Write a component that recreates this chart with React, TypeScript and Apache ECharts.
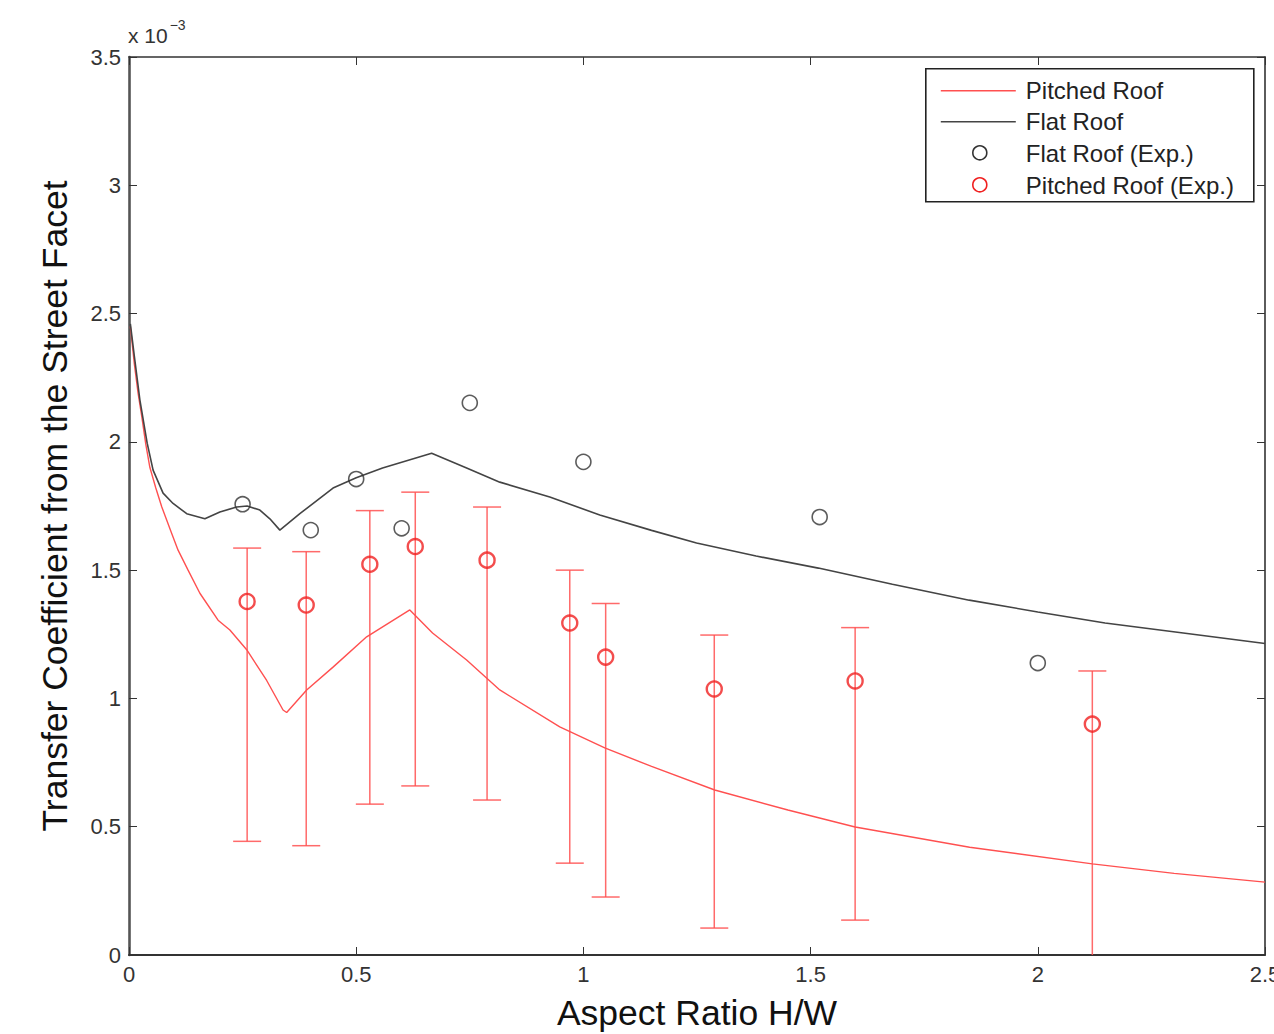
import React, { useEffect, useRef } from "react";
import * as echarts from "echarts";

// ---- data (values in units of 1e-3) ----
const xTickLabels = ["0", "0.5", "1", "1.5", "2", "2.5"];
const yTickLabels = ["0", "0.5", "1", "1.5", "2", "2.5", "3", "3.5"];

const flatRoofCurve: [number, number][] = [
  [0.003, 2.46], [0.012, 2.33], [0.024, 2.163], [0.04, 1.995], [0.053, 1.89],
  [0.075, 1.8], [0.097, 1.76], [0.127, 1.72], [0.167, 1.7], [0.2, 1.727],
  [0.237, 1.746], [0.26, 1.75], [0.288, 1.734], [0.31, 1.7], [0.332, 1.656],
  [0.376, 1.72], [0.449, 1.82], [0.5, 1.86], [0.558, 1.898], [0.666, 1.956],
  [0.743, 1.898], [0.816, 1.843], [0.926, 1.785], [1.036, 1.715], [1.15, 1.655],
  [1.249, 1.606], [1.38, 1.555], [1.517, 1.508], [1.68, 1.445], [1.849, 1.383],
  [2.0, 1.337], [2.148, 1.294], [2.32, 1.255], [2.5, 1.214],
];

const pitchedRoofCurve: [number, number][] = [
  [0.003, 2.45], [0.012, 2.3], [0.02, 2.19], [0.028, 2.1], [0.037, 1.99],
  [0.046, 1.9], [0.059, 1.82], [0.072, 1.747], [0.094, 1.643], [0.108, 1.578],
  [0.13, 1.5], [0.156, 1.41], [0.196, 1.305], [0.222, 1.267], [0.259, 1.19],
  [0.303, 1.07], [0.339, 0.955], [0.347, 0.945], [0.391, 1.033], [0.449, 1.122],
  [0.523, 1.24], [0.618, 1.345], [0.668, 1.255], [0.743, 1.15], [0.816, 1.033],
  [0.948, 0.889], [1.047, 0.807], [1.15, 0.735], [1.289, 0.643], [1.45, 0.565],
  [1.598, 0.499], [1.85, 0.42], [2.12, 0.355], [2.3, 0.318], [2.5, 0.284],
];

const flatExpX = [0.25, 0.4, 0.5, 0.6, 0.75, 1.0, 1.52, 2.0];
const flatExpY = [1.757, 1.656, 1.855, 1.663, 2.152, 1.922, 1.707, 1.138];

const pitchedExpX = [0.26, 0.39, 0.53, 0.63, 0.788, 0.97, 1.049, 1.288, 1.598, 2.12];
const pitchedExpY = [1.378, 1.364, 1.523, 1.592, 1.539, 1.294, 1.161, 1.037, 1.068, 0.9];
const pitchedExpHigh = [1.586, 1.572, 1.732, 1.804, 1.746, 1.5, 1.37, 1.247, 1.276, 1.107];
const pitchedExpLow = [0.443, 0.426, 0.588, 0.659, 0.604, 0.358, 0.226, 0.105, 0.136, -0.04];

const FONT = "'Liberation Sans', Arial, Helvetica, sans-serif";
const RED_LINE = "#ff5050";
const RED_MARK = "#f02020";
const DARK = "#333333";

export default function App() {
  const ref = useRef<HTMLDivElement>(null);

  useEffect(() => {
    if (!ref.current) return;
    const chart = echarts.init(ref.current, undefined, { renderer: "svg", width: 1274, height: 1034 });

    const errData = pitchedExpX.map((x, i) => [x, pitchedExpLow[i], pitchedExpHigh[i]]);

    const axisCommon = {
      min: 0,
      splitLine: { show: false },
      axisTick: { show: true, inside: true, length: 8, lineStyle: { color: DARK, width: 1 } },
    };

    const option: any = {
      animation: false,
      backgroundColor: "#ffffff",
      grid: { left: 129, right: 9, top: 57, bottom: 79, containLabel: false, outerBoundsMode: "none" },
      xAxis: [
        {
          ...axisCommon,
          type: "value",
          max: 2.5,
          interval: 0.5,
          position: "bottom",
          axisLine: { show: true, onZero: false, lineStyle: { color: DARK, width: 2 } },
          axisLabel: {
            color: DARK, fontSize: 22, fontFamily: FONT, margin: 8,
            formatter: (v: number) => xTickLabels[Math.round(v / 0.5)] ?? "",
          },
          name: "Aspect Ratio H/W",
          nameLocation: "middle",
          nameGap: 40,
          nameTextStyle: { color: "#111", fontSize: 35.5, fontFamily: FONT },
        },
        {
          ...axisCommon,
          type: "value",
          max: 2.5,
          interval: 0.5,
          position: "top",
          axisLine: { show: true, onZero: false, lineStyle: { color: DARK, width: 1.6 } },
          axisLabel: { show: false },
        },
      ],
      yAxis: [
        {
          ...axisCommon,
          type: "value",
          max: 3.5,
          interval: 0.5,
          position: "left",
          axisLine: { show: true, onZero: false, lineStyle: { color: "#555", width: 2.6 } },
          axisLabel: {
            color: DARK, fontSize: 22, fontFamily: FONT, margin: 8,
            formatter: (v: number) => yTickLabels[Math.round(v / 0.5)] ?? "",
          },
          name: "Transfer Coefficient from the Street Facet",
          nameLocation: "middle",
          nameGap: 56,
          nameTextStyle: { color: "#111", fontSize: 35.5, fontFamily: FONT },
        },
        {
          ...axisCommon,
          type: "value",
          max: 3.5,
          interval: 0.5,
          position: "right",
          axisLine: { show: true, onZero: false, lineStyle: { color: DARK, width: 1.6 } },
          axisLabel: { show: false },
        },
      ],
      series: [
        {
          name: "Pitched Roof",
          type: "line",
          data: pitchedRoofCurve,
          showSymbol: false,
          symbol: "none",
          lineStyle: { color: RED_LINE, width: 1.4 },
          z: 2,
        },
        {
          name: "Flat Roof",
          type: "line",
          data: flatRoofCurve,
          showSymbol: false,
          symbol: "none",
          lineStyle: { color: "#444", width: 1.6 },
          z: 2,
        },
        {
          name: "error",
          type: "custom",
          clip: true,
          data: errData,
          renderItem: (params: any, api: any) => {
            const x = api.value(0);
            const lo = api.coord([x, api.value(1)]);
            const hi = api.coord([x, api.value(2)]);
            const hw = 14;
            const style = { stroke: RED_LINE, lineWidth: 1.5, opacity: 0.85 };
            return {
              type: "group",
              children: [
                { type: "line", shape: { x1: hi[0], y1: hi[1], x2: lo[0], y2: lo[1] }, style },
                { type: "line", shape: { x1: hi[0] - hw, y1: hi[1], x2: hi[0] + hw, y2: hi[1] }, style },
                { type: "line", shape: { x1: lo[0] - hw, y1: lo[1], x2: lo[0] + hw, y2: lo[1] }, style },
              ],
            };
          },
          z: 3,
        },
        {
          name: "Flat Roof (Exp.)",
          type: "scatter",
          data: flatExpX.map((x, i) => [x, flatExpY[i]]),
          symbol: "circle",
          symbolSize: 15,
          itemStyle: { color: "rgba(0,0,0,0)", borderColor: DARK, borderWidth: 1.6 },
          z: 4,
        },
        {
          name: "Pitched Roof (Exp.)",
          type: "scatter",
          data: pitchedExpX.map((x, i) => [x, pitchedExpY[i]]),
          symbol: "circle",
          symbolSize: 15,
          itemStyle: { color: "rgba(0,0,0,0)", borderColor: RED_MARK, borderWidth: 2.4 },
          z: 4,
        },
      ],
      graphic: [
        {
          type: "text",
          left: 128,
          top: 18,
          style: {
            text: "{a|x 10}{b|−3}",
            fontFamily: FONT,
            rich: {
              a: { fontSize: 21, fill: DARK, fontFamily: FONT, verticalAlign: "bottom" },
              b: { fontSize: 14, fill: DARK, fontFamily: FONT, verticalAlign: "top", padding: [0, 0, 14, 2] },
            },
          },
        },
        {
          type: "group",
          left: 925,
          top: 68,
          children: [
            {
              type: "rect",
              shape: { x: 0, y: 0, width: 328, height: 133 },
              style: { fill: "#fff", stroke: "#222", lineWidth: 1.6 },
            },
            { type: "line", shape: { x1: 15, y1: 22, x2: 90, y2: 22 }, style: { stroke: RED_LINE, lineWidth: 1.6 } },
            { type: "line", shape: { x1: 15, y1: 53, x2: 90, y2: 53 }, style: { stroke: "#444", lineWidth: 1.4 } },
            { type: "circle", shape: { cx: 54, cy: 84, r: 7 }, style: { fill: "none", stroke: DARK, lineWidth: 1.6 } },
            { type: "circle", shape: { cx: 54, cy: 116, r: 7 }, style: { fill: "none", stroke: RED_MARK, lineWidth: 1.6 } },
            { type: "text", x: 100, y: 22, style: { text: "Pitched Roof", fontSize: 24, fontFamily: FONT, fill: "#222", verticalAlign: "middle" } },
            { type: "text", x: 100, y: 53, style: { text: "Flat Roof", fontSize: 24, fontFamily: FONT, fill: "#222", verticalAlign: "middle" } },
            { type: "text", x: 100, y: 85, style: { text: "Flat Roof (Exp.)", fontSize: 24, fontFamily: FONT, fill: "#222", verticalAlign: "middle" } },
            { type: "text", x: 100, y: 117, style: { text: "Pitched Roof (Exp.)", fontSize: 24, fontFamily: FONT, fill: "#222", verticalAlign: "middle" } },
          ],
          z: 10,
        },
      ],
    };

    chart.setOption(option);
    return () => chart.dispose();
  }, []);

  return (
    <div
      ref={ref}
      style={{ position: "fixed", left: 0, top: 0, width: 1274, height: 1034, background: "#fff" }}
    />
  );
}
